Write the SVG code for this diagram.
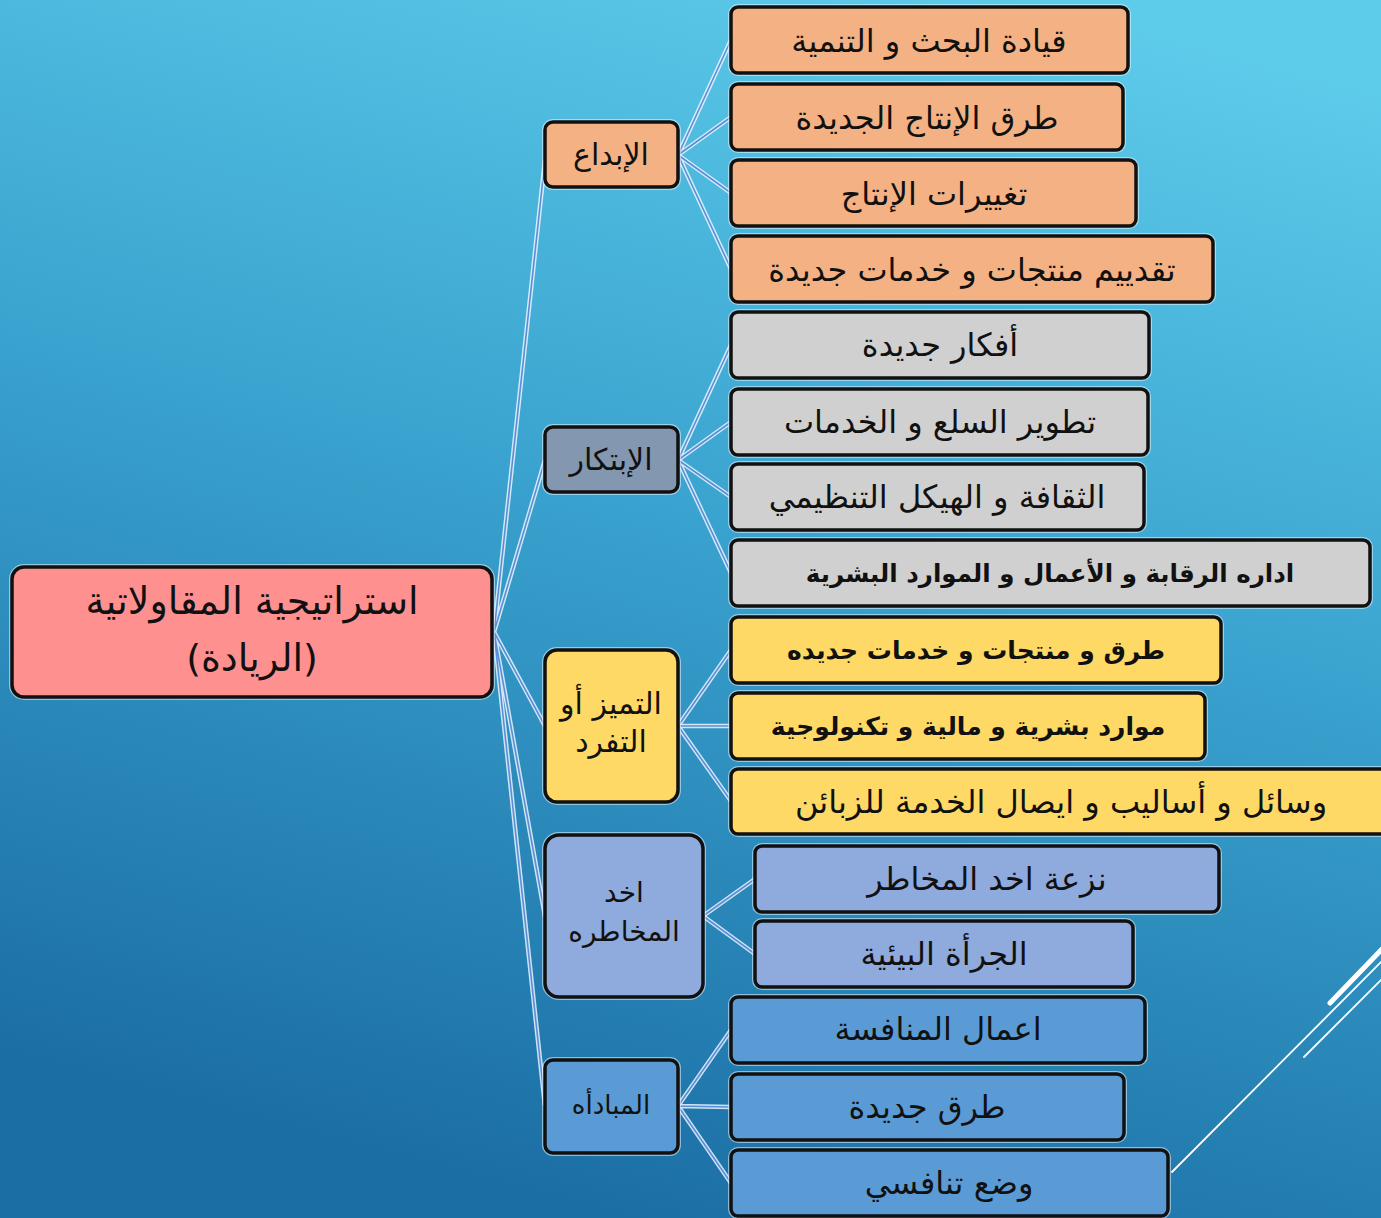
<svg xmlns="http://www.w3.org/2000/svg" width="1381" height="1218" viewBox="0 0 1381 1218">
<defs>
<linearGradient id="bg" x1="0.75" y1="0" x2="0.45" y2="1">
<stop offset="0" stop-color="#5dcbea"/>
<stop offset="0.45" stop-color="#3aa3cf"/>
<stop offset="1" stop-color="#1b6ea4"/>
</linearGradient>
</defs>
<style>
.box{stroke:#111;stroke-width:3.5}
.glow{fill:none;stroke:#e8f4ff;stroke-width:6;opacity:0.55}
.t{font-family:"DejaVu Sans","Noto Sans",sans-serif;fill:#111;text-anchor:middle;direction:rtl}
.b{font-weight:bold}
.cw{stroke:#eef6ff;stroke-width:4.5;fill:none;opacity:0.85}
.cb{stroke:#5a8ed6;stroke-width:1.6;fill:none}
.deco{stroke:#ffffff;fill:none;stroke-linecap:round}
.or{fill:#f4b183}.gr{fill:#d0d0d0}.ye{fill:#ffd966}.pu{fill:#8faadc}.bl{fill:#5b9bd5}.sl{fill:#8497b0}.pk{fill:#ff9090}
</style>
<rect x="0" y="0" width="1381" height="1218" fill="url(#bg)"/>

<g id="deco">
<line class="deco" x1="1330" y1="1003" x2="1385" y2="946" stroke-width="5"/>
<line class="deco" x1="1172" y1="1172" x2="1385" y2="958" stroke-width="1.8"/>
<line class="deco" x1="1304" y1="1057" x2="1385" y2="976" stroke-width="1.8"/>
</g>

<g id="connectors">
<g class="cw">
<path d="M494 632 L545 160 M494 632 L545 460 M494 632 L545 726 M494 632 L545 916 M494 632 L545 1106"/>
<path d="M678 155 L731 40 M678 155 L731 117 M678 155 L731 193 M678 155 L731 269"/>
<path d="M678 460 L731 345 M678 460 L731 422 M678 460 L731 497 M678 460 L731 573"/>
<path d="M678 726 L731 650 M678 726 L731 726 M678 726 L731 801"/>
<path d="M703 916 L755 879 M703 916 L755 954"/>
<path d="M678 1106 L731 1030 M678 1106 L731 1107 M678 1106 L731 1183"/>
</g>
<g class="cb">
<path d="M494 632 L545 160 M494 632 L545 460 M494 632 L545 726 M494 632 L545 916 M494 632 L545 1106"/>
<path d="M678 155 L731 40 M678 155 L731 117 M678 155 L731 193 M678 155 L731 269"/>
<path d="M678 460 L731 345 M678 460 L731 422 M678 460 L731 497 M678 460 L731 573"/>
<path d="M678 726 L731 650 M678 726 L731 726 M678 726 L731 801"/>
<path d="M703 916 L755 879 M703 916 L755 954"/>
<path d="M678 1106 L731 1030 M678 1106 L731 1107 M678 1106 L731 1183"/>
</g>
</g>

<g id="root">
<rect class="glow" x="12" y="567" width="480" height="130" rx="12"/>
<rect class="box pk" x="12" y="567" width="480" height="130" rx="12"/>
<text class="t" x="252" y="614" font-size="38">استراتيجية المقاولاتية</text>
<text class="t" x="252" y="671" font-size="38">(الريادة)</text>
</g>

<g id="ibdaa">
<rect class="glow" x="545" y="122" width="133" height="65" rx="8"/>
<rect class="box or" x="545" y="122" width="133" height="65" rx="8"/>
<text class="t" x="611" y="165" font-size="30">الإبداع</text>
</g>
<g id="ibtikar">
<rect class="glow" x="545" y="427" width="133" height="65" rx="8"/>
<rect class="box sl" x="545" y="427" width="133" height="65" rx="8"/>
<text class="t" x="611" y="470" font-size="30">الإبتكار</text>
</g>
<g id="tamayoz">
<rect class="glow" x="545" y="650" width="133" height="152" rx="12"/>
<rect class="box ye" x="545" y="650" width="133" height="152" rx="12"/>
<text class="t" x="611" y="714" font-size="30">التميز أو</text>
<text class="t" x="611" y="752" font-size="30">التفرد</text>
</g>
<g id="mukhatara">
<rect class="glow" x="545" y="835" width="158" height="162" rx="14"/>
<rect class="box pu" x="545" y="835" width="158" height="162" rx="14"/>
<text class="t" x="624" y="902" font-size="28">اخد</text>
<text class="t" x="624" y="941" font-size="28">المخاطره</text>
</g>
<g id="mubadara">
<rect class="glow" x="545" y="1060" width="133" height="93" rx="8"/>
<rect class="box bl" x="545" y="1060" width="133" height="93" rx="8"/>
<text class="t" x="611" y="1114" font-size="26">المبادأه</text>
</g>

<g id="n1"><rect class="glow" x="731" y="7" width="397" height="66" rx="7"/><rect class="box or" x="731" y="7" width="397" height="66" rx="7"/><text class="t" x="929" y="52" font-size="32">قيادة البحث و التنمية</text></g>
<g id="n2"><rect class="glow" x="731" y="84" width="392" height="66" rx="7"/><rect class="box or" x="731" y="84" width="392" height="66" rx="7"/><text class="t" x="927" y="129" font-size="32">طرق الإنتاج الجديدة</text></g>
<g id="n3"><rect class="glow" x="731" y="160" width="405" height="66" rx="7"/><rect class="box or" x="731" y="160" width="405" height="66" rx="7"/><text class="t" x="934" y="205" font-size="32">تغييرات الإنتاج</text></g>
<g id="n4"><rect class="glow" x="731" y="236" width="482" height="66" rx="7"/><rect class="box or" x="731" y="236" width="482" height="66" rx="7"/><text class="t" x="972" y="281" font-size="32">تقدييم منتجات و خدمات جديدة</text></g>

<g id="n5"><rect class="glow" x="731" y="312" width="418" height="66" rx="7"/><rect class="box gr" x="731" y="312" width="418" height="66" rx="7"/><text class="t" x="940" y="356" font-size="32">أفكار جديدة</text></g>
<g id="n6"><rect class="glow" x="731" y="389" width="417" height="66" rx="7"/><rect class="box gr" x="731" y="389" width="417" height="66" rx="7"/><text class="t" x="940" y="433" font-size="32">تطوير السلع و الخدمات</text></g>
<g id="n7"><rect class="glow" x="731" y="464" width="413" height="66" rx="7"/><rect class="box gr" x="731" y="464" width="413" height="66" rx="7"/><text class="t" x="937" y="508" font-size="32">الثقافة و الهيكل التنظيمي</text></g>
<g id="n8"><rect class="glow" x="731" y="540" width="639" height="66" rx="7"/><rect class="box gr" x="731" y="540" width="639" height="66" rx="7"/><text class="t b" x="1050" y="582" font-size="24.5">اداره الرقابة و الأعمال و الموارد البشرية</text></g>

<g id="n9"><rect class="glow" x="731" y="617" width="490" height="66" rx="7"/><rect class="box ye" x="731" y="617" width="490" height="66" rx="7"/><text class="t b" x="976" y="659" font-size="25">طرق و منتجات و خدمات جديده</text></g>
<g id="n10"><rect class="glow" x="731" y="693" width="474" height="66" rx="7"/><rect class="box ye" x="731" y="693" width="474" height="66" rx="7"/><text class="t b" x="968" y="735" font-size="25">موارد بشرية و مالية و تكنولوجية</text></g>
<g id="n11"><rect class="glow" x="731" y="769" width="670" height="65" rx="7"/><rect class="box ye" x="731" y="769" width="670" height="65" rx="7"/><text class="t" x="1061" y="813" font-size="32">وسائل و أساليب و ايصال الخدمة للزبائن</text></g>

<g id="n12"><rect class="glow" x="755" y="846" width="464" height="66" rx="7"/><rect class="box pu" x="755" y="846" width="464" height="66" rx="7"/><text class="t" x="987" y="890" font-size="32">نزعة اخد المخاطر</text></g>
<g id="n13"><rect class="glow" x="755" y="921" width="378" height="66" rx="7"/><rect class="box pu" x="755" y="921" width="378" height="66" rx="7"/><text class="t" x="944" y="965" font-size="32">الجرأة البيئية</text></g>

<g id="n14"><rect class="glow" x="731" y="997" width="414" height="66" rx="7"/><rect class="box bl" x="731" y="997" width="414" height="66" rx="7"/><text class="t" x="938" y="1040" font-size="32">اعمال المنافسة</text></g>
<g id="n15"><rect class="glow" x="731" y="1074" width="393" height="66" rx="7"/><rect class="box bl" x="731" y="1074" width="393" height="66" rx="7"/><text class="t" x="927" y="1118" font-size="32">طرق جديدة</text></g>
<g id="n16"><rect class="glow" x="731" y="1150" width="437" height="66" rx="7"/><rect class="box bl" x="731" y="1150" width="437" height="66" rx="7"/><text class="t" x="949" y="1194" font-size="32">وضع تنافسي</text></g>
</svg>
